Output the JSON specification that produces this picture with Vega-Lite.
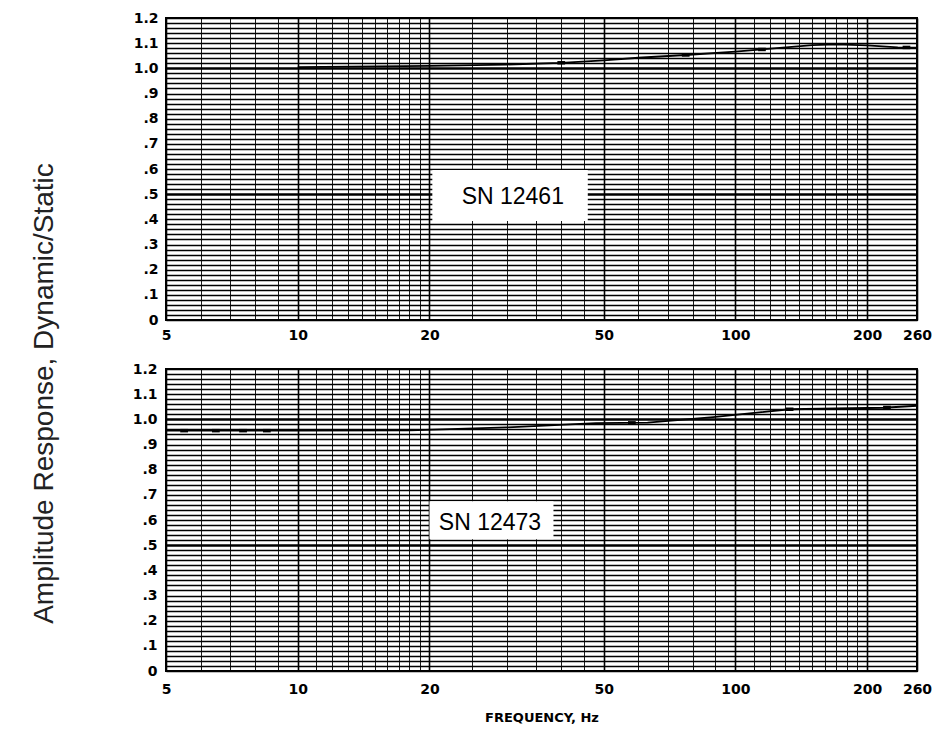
{
  "$schema": "https://vega.github.io/schema/vega-lite/v6.json",
  "background": "white",
  "padding": {"left": 28, "top": 10, "right": 10, "bottom": 5},
  "spacing": 49,
  "bounds": "flush",
  "config": {
    "view": {"stroke": "black", "strokeWidth": 2},
    "font": "DejaVu Sans",
    "axis": {
      "ticks": false,
      "domain": false,
      "labelFont": "DejaVu Sans",
      "labelFontWeight": "bold",
      "labelFontSize": 14,
      "labelColor": "black",
      "gridColor": "black",
      "gridOpacity": 1,
      "title": null
    }
  },
  "datasets": {
    "top": [
      {"f": 10, "v": 1.005}, {"f": 20, "v": 1.01}, {"f": 30, "v": 1.015}, {"f": 40, "v": 1.022},
      {"f": 50, "v": 1.032}, {"f": 60, "v": 1.042}, {"f": 77, "v": 1.053}, {"f": 100, "v": 1.066},
      {"f": 115, "v": 1.075}, {"f": 150, "v": 1.092}, {"f": 170, "v": 1.095}, {"f": 200, "v": 1.091},
      {"f": 235, "v": 1.083}, {"f": 260, "v": 1.082}
    ],
    "topPts": [
      {"f": 40, "v": 1.022}, {"f": 77, "v": 1.053}, {"f": 115, "v": 1.075}, {"f": 246, "v": 1.083}
    ],
    "bottom": [
      {"f": 5, "v": 0.955}, {"f": 10, "v": 0.955}, {"f": 18, "v": 0.956}, {"f": 30, "v": 0.968},
      {"f": 48, "v": 0.985}, {"f": 63, "v": 0.987}, {"f": 89, "v": 1.009}, {"f": 133, "v": 1.04},
      {"f": 218, "v": 1.046}, {"f": 260, "v": 1.054}
    ],
    "bottomPts": [
      {"f": 5.5, "v": 0.955}, {"f": 6.5, "v": 0.955}, {"f": 7.5, "v": 0.955}, {"f": 8.5, "v": 0.955},
      {"f": 58, "v": 0.986}, {"f": 133, "v": 1.04}, {"f": 222, "v": 1.047}
    ],
    "topLabel": [{"f1": 20.3, "f2": 46, "v1": 0.393, "v2": 0.596, "f": 31, "v": 0.49, "label": "SN 12461"}],
    "bottomLabel": [{"f1": 20.0, "f2": 38.4, "v1": 0.524, "v2": 0.675, "f": 27.5, "v": 0.588, "label": "SN 12473"}]
  },
  "vconcat": [
    {
      "width": 751,
      "height": 302,
      "resolve": {"axis": {"x": "independent", "y": "independent"}},
      "layer": [
        {
          "data": {"name": "top"},
          "mark": {"type": "line", "color": "black", "strokeWidth": 1.8},
          "encoding": {
            "x": {"field": "f", "type": "quantitative",
              "scale": {"type": "log", "domain": [5, 260], "nice": false},
              "axis": {"values": [5, 10, 20, 50, 100, 200, 260], "format": "d", "labelPadding": 8,
                "grid": true, "gridWidth": 1.6, "labelFlush": false}},
            "y": {"field": "v", "type": "quantitative",
              "scale": {"domain": [0, 1.2], "nice": false},
              "axis": {"values": [0, 0.1, 0.2, 0.3, 0.4, 0.5, 0.6, 0.7, 0.8, 0.9, 1, 1.1, 1.2],
                "labelExpr": "datum.value == 0 ? '0' : (datum.value >= 1 ? format(datum.value, '.1f') : replace(format(datum.value, '.1f'), '0.', '.'))",
                "labelPadding": 8, "grid": true,
                "gridWidth": {"condition": {"test": "datum.value == 0.5 || datum.value == 1", "value": 2.4}, "value": 1.5}}}
          }
        },
        {
          "data": {"name": "top"},
          "mark": {"type": "line", "opacity": 0},
          "encoding": {
            "x": {"field": "f", "type": "quantitative",
              "scale": {"type": "log", "domain": [5, 260], "nice": false},
              "axis": {"values": [6, 7, 8, 9, 11, 12, 13, 14, 15, 16, 17, 18, 19, 25, 30, 35, 40, 45, 60, 70, 80, 90, 110, 120, 130, 140, 150, 160, 170, 180, 190],
                "labels": false, "grid": true, "gridWidth": 0.9}},
            "y": {"field": "v", "type": "quantitative",
              "scale": {"domain": [0, 1.2], "nice": false},
              "axis": {"values": [0.02, 0.04, 0.06, 0.08, 0.12, 0.14, 0.16, 0.18, 0.22, 0.24, 0.26, 0.28, 0.32, 0.34, 0.36, 0.38, 0.42, 0.44, 0.46, 0.48, 0.52, 0.54, 0.56, 0.58, 0.62, 0.64, 0.66, 0.68, 0.72, 0.74, 0.76, 0.78, 0.82, 0.84, 0.86, 0.88, 0.92, 0.94, 0.96, 0.98, 1.02, 1.04, 1.06, 1.08, 1.12, 1.14, 1.16, 1.18],
                "labels": false, "grid": true, "gridWidth": 1.3}}
          }
        },
        {
          "data": {"name": "topPts"},
          "mark": {"type": "point", "filled": true, "color": "black", "opacity": 1, "shape": "M-1,-0.45L1,-0.45L1,0.45L-1,0.45Z", "size": 60},
          "encoding": {
            "x": {"field": "f", "type": "quantitative", "axis": null},
            "y": {"field": "v", "type": "quantitative", "axis": null}
          }
        },
        {
          "data": {"name": "topLabel"},
          "mark": {"type": "rect", "color": "white", "opacity": 1},
          "encoding": {
            "x": {"field": "f1", "type": "quantitative", "axis": null},
            "x2": {"field": "f2"},
            "y": {"field": "v1", "type": "quantitative", "axis": null},
            "y2": {"field": "v2"}
          }
        },
        {
          "data": {"name": "topLabel"},
          "mark": {"type": "text", "font": "Liberation Sans", "fontSize": 23, "color": "black", "baseline": "middle", "align": "center"},
          "encoding": {
            "x": {"field": "f", "type": "quantitative", "axis": null},
            "y": {"field": "v", "type": "quantitative", "axis": null},
            "text": {"field": "label"}
          }
        }
      ]
    },
    {
      "width": 751,
      "height": 302,
      "resolve": {"axis": {"x": "independent", "y": "independent"}},
      "layer": [
        {
          "data": {"name": "bottom"},
          "mark": {"type": "line", "color": "black", "strokeWidth": 1.8},
          "encoding": {
            "x": {"field": "f", "type": "quantitative",
              "scale": {"type": "log", "domain": [5, 260], "nice": false},
              "axis": {"values": [5, 10, 20, 50, 100, 200, 260], "format": "d", "labelPadding": 11,
                "grid": true, "gridWidth": 1.6, "labelFlush": false,
                "title": "FREQUENCY, Hz", "titleFont": "DejaVu Sans", "titleFontWeight": "bold",
                "titleFontSize": 13, "titleColor": "black", "titlePadding": 15}},
            "y": {"field": "v", "type": "quantitative",
              "scale": {"domain": [0, 1.2], "nice": false},
              "axis": {"values": [0, 0.1, 0.2, 0.3, 0.4, 0.5, 0.6, 0.7, 0.8, 0.9, 1, 1.1, 1.2],
                "labelExpr": "datum.value == 0 ? '0' : (datum.value >= 1 ? format(datum.value, '.1f') : replace(format(datum.value, '.1f'), '0.', '.'))",
                "labelPadding": 9, "grid": true,
                "gridWidth": {"condition": {"test": "datum.value == 0.5 || datum.value == 1", "value": 2.4}, "value": 1.5},
                "title": "Amplitude Response, Dynamic/Static", "titleFont": "Liberation Sans",
                "titleFontWeight": "normal", "titleFontSize": 28, "titleColor": "#222222",
                "titleX": -122, "titleY": 24, "titleAngle": -90, "titleAlign": "center", "titleBaseline": "middle"}}
          }
        },
        {
          "data": {"name": "bottom"},
          "mark": {"type": "line", "opacity": 0},
          "encoding": {
            "x": {"field": "f", "type": "quantitative",
              "scale": {"type": "log", "domain": [5, 260], "nice": false},
              "axis": {"values": [6, 7, 8, 9, 11, 12, 13, 14, 15, 16, 17, 18, 19, 25, 30, 35, 40, 45, 60, 70, 80, 90, 110, 120, 130, 140, 150, 160, 170, 180, 190],
                "labels": false, "grid": true, "gridWidth": 0.9}},
            "y": {"field": "v", "type": "quantitative",
              "scale": {"domain": [0, 1.2], "nice": false},
              "axis": {"values": [0.02, 0.04, 0.06, 0.08, 0.12, 0.14, 0.16, 0.18, 0.22, 0.24, 0.26, 0.28, 0.32, 0.34, 0.36, 0.38, 0.42, 0.44, 0.46, 0.48, 0.52, 0.54, 0.56, 0.58, 0.62, 0.64, 0.66, 0.68, 0.72, 0.74, 0.76, 0.78, 0.82, 0.84, 0.86, 0.88, 0.92, 0.94, 0.96, 0.98, 1.02, 1.04, 1.06, 1.08, 1.12, 1.14, 1.16, 1.18],
                "labels": false, "grid": true, "gridWidth": 1.3}}
          }
        },
        {
          "data": {"name": "bottomPts"},
          "mark": {"type": "point", "filled": true, "color": "black", "opacity": 1, "shape": "M-1,-0.45L1,-0.45L1,0.45L-1,0.45Z", "size": 60},
          "encoding": {
            "x": {"field": "f", "type": "quantitative", "axis": null},
            "y": {"field": "v", "type": "quantitative", "axis": null}
          }
        },
        {
          "data": {"name": "bottomLabel"},
          "mark": {"type": "rect", "color": "white", "opacity": 1},
          "encoding": {
            "x": {"field": "f1", "type": "quantitative", "axis": null},
            "x2": {"field": "f2"},
            "y": {"field": "v1", "type": "quantitative", "axis": null},
            "y2": {"field": "v2"}
          }
        },
        {
          "data": {"name": "bottomLabel"},
          "mark": {"type": "text", "font": "Liberation Sans", "fontSize": 23, "color": "black", "baseline": "middle", "align": "center"},
          "encoding": {
            "x": {"field": "f", "type": "quantitative", "axis": null},
            "y": {"field": "v", "type": "quantitative", "axis": null},
            "text": {"field": "label"}
          }
        }
      ]
    }
  ]
}
